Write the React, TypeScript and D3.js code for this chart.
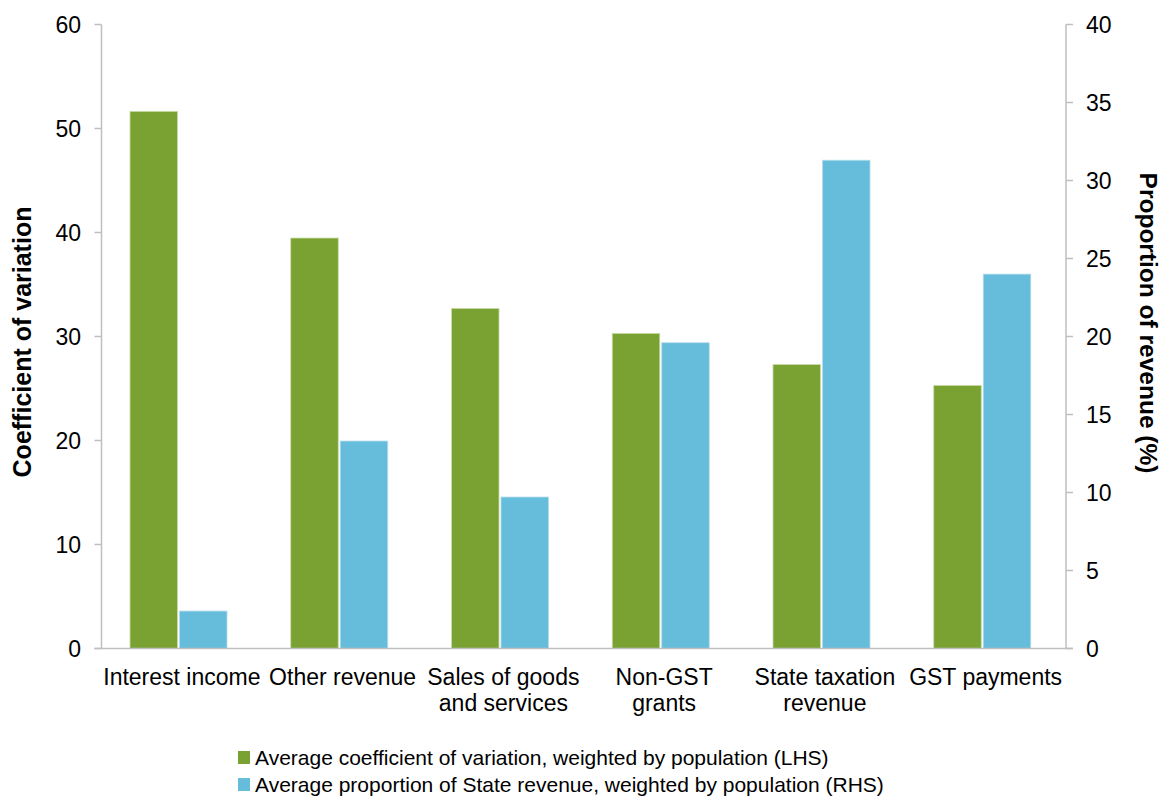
import React from "react";
import * as d3 from "d3";

const categories: string[][] = [
  ["Interest income"],
  ["Other revenue"],
  ["Sales of goods", "and services"],
  ["Non-GST", "grants"],
  ["State taxation", "revenue"],
  ["GST payments"],
];
const coefVariation = [51.65, 39.47, 32.7, 30.3, 27.3, 25.3];
const propRevenue = [2.4, 13.3, 9.71, 19.6, 31.3, 24.0];
const leftTicks = [0, 10, 20, 30, 40, 50, 60];
const rightTicks = [0, 5, 10, 15, 20, 25, 30, 35, 40];
const seriesNames = [
  "Average coefficient of variation, weighted by population (LHS)",
  "Average proportion of State revenue, weighted by population (RHS)",
];
const leftTitle = "Coefficient of variation";
const rightTitle = "Proportion of revenue (%)";

const GREEN = "#7AA233";
const BLUE = "#66BCDB";
const AXIS = "#BFBFBF";
const FONT = "'Liberation Sans', Arial, sans-serif";

export default function App() {
  const W = 1163;
  const H = 796;
  const xL = 101.5;
  const xR = 1066;
  const y0 = 648.5;
  const yTop = 24.5;
  const keys = categories.map((c) => c.join(" "));
  const x = d3.scaleBand<string>().domain(keys).range([xL, xR]).padding(0);
  const sub = d3
    .scaleBand<string>()
    .domain(["a", "b"])
    .range([28.5, 125.5])
    .paddingInner(0.04);
  const yLeft = d3.scaleLinear().domain([0, 60]).range([y0, yTop]);
  const yRight = d3.scaleLinear().domain([0, 40]).range([y0, yTop]);

  return (
    <svg
      width={W}
      height={H}
      style={{ position: "absolute", left: 0, top: 0, background: "#fff" }}
      fontFamily={FONT}
    >
      {/* bars */}
      {keys.map((k, i) => {
        const bx = x(k)!;
        return (
          <g key={k}>
            <rect
              x={bx + sub("a")!}
              y={yLeft(coefVariation[i])}
              width={sub.bandwidth()}
              height={y0 - yLeft(coefVariation[i])}
              fill={GREEN}
              stroke="#C9DDA8"
              strokeWidth={0.8}
            />
            <rect
              x={bx + sub("b")!}
              y={yRight(propRevenue[i])}
              width={sub.bandwidth()}
              height={y0 - yRight(propRevenue[i])}
              fill={BLUE}
              stroke="#B5DDEC"
              strokeWidth={0.8}
            />
          </g>
        );
      })}
      {/* axes */}
      <line x1={xL} x2={xL} y1={yTop} y2={y0} stroke={AXIS} strokeWidth={1.5} />
      <line x1={xR} x2={xR} y1={yTop} y2={y0} stroke={AXIS} strokeWidth={1.5} />
      <line x1={xL - 7} x2={xR + 7} y1={y0} y2={y0} stroke={AXIS} strokeWidth={1.5} />
      {leftTicks.map((t) => (
        <g key={"l" + t}>
          <line x1={xL - 7} x2={xL} y1={yLeft(t)} y2={yLeft(t)} stroke={AXIS} strokeWidth={1.5} />
          <text
            x={81}
            y={yLeft(t)}
            dy="0.35em"
            textAnchor="end"
            fontSize={23}
            fill="#000"
          >
            {t}
          </text>
        </g>
      ))}
      {rightTicks.map((t) => (
        <g key={"r" + t}>
          <line x1={xR} x2={xR + 7} y1={yRight(t)} y2={yRight(t)} stroke={AXIS} strokeWidth={1.5} />
          <text x={1086} y={yRight(t)} dy="0.35em" textAnchor="start" fontSize={23} fill="#000">
            {t}
          </text>
        </g>
      ))}
      {/* category labels */}
      {categories.map((lines, i) => (
        <text
          key={"c" + i}
          x={x(keys[i])! + x.bandwidth() / 2}
          y={685}
          textAnchor="middle"
          fontSize={23}
          fill="#000"
        >
          {lines.map((ln, j) => (
            <tspan key={j} x={x(keys[i])! + x.bandwidth() / 2} dy={j === 0 ? 0 : 26}>
              {ln}
            </tspan>
          ))}
        </text>
      ))}
      {/* axis titles */}
      <text
        transform={`translate(31,342) rotate(-90)`}
        textAnchor="middle"
        fontSize={25}
        fontWeight="bold"
        fill="#000"
      >
        {leftTitle}
      </text>
      <text
        transform={`translate(1140,323) rotate(90)`}
        textAnchor="middle"
        fontSize={24.5}
        fontWeight="bold"
        fill="#000"
      >
        {rightTitle}
      </text>
      {/* legend */}
      {seriesNames.map((s, i) => (
        <g key={"lg" + i} transform={`translate(238, ${751 + i * 27})`}>
          <rect x={0} y={0} width={12} height={13} fill={i === 0 ? GREEN : BLUE} />
          <text x={17} y={6.5} dy="0.35em" fontSize={21} fill="#000">
            {s}
          </text>
        </g>
      ))}
    </svg>
  );
}
